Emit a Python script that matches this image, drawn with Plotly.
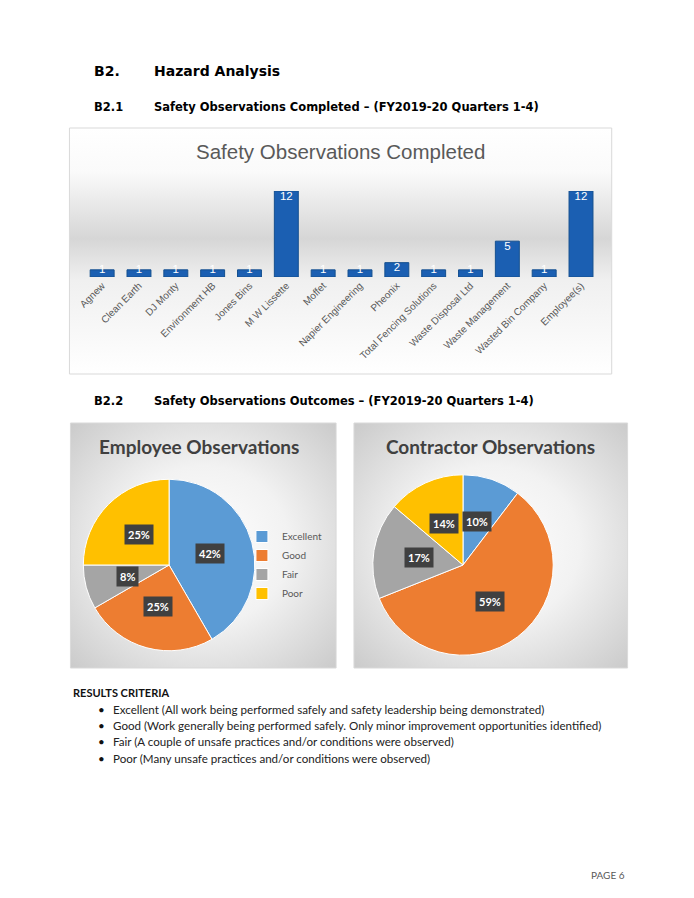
import math
import base64
import plotly.graph_objects as go

# ---------------- data ----------------
contractors = ["Agnew", "Clean Earth", "DJ Monty", "Environment HB", "Jones Bins",
               "M W Lissette", "Moffet", "Napier Engineering", "Pheonix",
               "Total Fencing Solutions", "Waste Disposal Ltd", "Waste Management",
               "Wasted Bin Company", "Employee(s)"]
observations = [1, 1, 1, 1, 1, 12, 1, 1, 2, 1, 1, 5, 1, 12]

ratings = ["Excellent", "Good", "Fair", "Poor"]
employee_counts = [5, 3, 1, 3]
contractor_counts = [3, 17, 5, 4]
rating_colors = ["#5B9BD5", "#ED7D31", "#A5A5A5", "#FFC000"]

criteria = [
    "Excellent (All work being performed safely and safety leadership being demonstrated)",
    "Good (Work generally being performed safely. Only minor improvement opportunities identified)",
    "Fair (A couple of unsafe practices and/or conditions were observed)",
    "Poor (Many unsafe practices and/or conditions were observed)",
]

# ---------------- page geometry helpers ----------------
W, H = 694, 898


def px(x):
    return x / W


def py(y):
    return 1 - y / H


def svg_uri(svg):
    return "data:image/svg+xml;base64," + base64.b64encode(svg.encode()).decode()


def linear_bg(w, h):
    return svg_uri(
        f'<svg xmlns="http://www.w3.org/2000/svg" width="{w}" height="{h}" viewBox="0 0 {w} {h}" preserveAspectRatio="none">'
        '<defs><linearGradient id="g" x1="0" y1="0" x2="0" y2="1">'
        '<stop offset="0" stop-color="#ffffff"/><stop offset="0.18" stop-color="#fafafa"/>'
        '<stop offset="0.45" stop-color="#d6d6d6"/><stop offset="0.62" stop-color="#f0f0f0"/>'
        '<stop offset="1" stop-color="#ffffff"/></linearGradient></defs>'
        f'<rect width="{w}" height="{h}" fill="url(#g)"/></svg>')


def radial_bg(w, h):
    return svg_uri(
        f'<svg xmlns="http://www.w3.org/2000/svg" width="{w}" height="{h}" viewBox="0 0 {w} {h}" preserveAspectRatio="none">'
        '<defs><radialGradient id="g" cx="0.5" cy="0.5" r="0.72">'
        '<stop offset="0" stop-color="#ffffff"/><stop offset="0.45" stop-color="#f2f2f2"/>'
        '<stop offset="1" stop-color="#c9c9c9"/></radialGradient></defs>'
        f'<rect width="{w}" height="{h}" fill="url(#g)"/></svg>')


fig = go.Figure()

# ---------------- bar chart ----------------
fig.add_trace(go.Bar(
    x=contractors, y=observations,
    marker=dict(color="#1B5FB2", line=dict(color="#15508F", width=1)),
    showlegend=False, xaxis="x", yaxis="y", hoverinfo="x+y",
))
# value labels: inside the end of tall bars, centred on the top of short ones
fig.add_trace(go.Scatter(
    x=contractors, y=observations, mode="text",
    text=[str(v) for v in observations],
    textposition=["middle center" if v < 2 else "bottom center" for v in observations],
    textfont=dict(family="Liberation Sans", size=11.5, color="white"),
    cliponaxis=False, showlegend=False, hoverinfo="skip", xaxis="x", yaxis="y",
))

# ---------------- pies ----------------
pies = [
    dict(counts=employee_counts, cx=164.5, cy=565, r=86.5, legend="legend"),
    dict(counts=contractor_counts, cx=461, cy=565, r=91, legend="legend2"),
]
annotations = []
for p in pies:
    fig.add_trace(go.Pie(
        labels=ratings, values=p["counts"], sort=False, direction="clockwise",
        rotation=0, textinfo="none", hoverinfo="label+percent",
        marker=dict(colors=rating_colors, line=dict(color="white", width=1)),
        domain=dict(x=[px(p["cx"] - p["r"]), px(p["cx"] + p["r"])],
                    y=[py(p["cy"] + p["r"]), py(p["cy"] - p["r"])]),
        legend=p["legend"],
    ))
    total = sum(p["counts"])
    cum = 0
    for c in p["counts"]:
        mid = (cum + c / 2) / total * 2 * math.pi
        cum += c
        lx = p["cx"] + 0.5 * p["r"] * math.sin(mid)
        ly = p["cy"] - 0.5 * p["r"] * math.cos(mid)
        annotations.append(dict(
            x=px(lx), y=py(ly), xref="paper", yref="paper", showarrow=False,
            xanchor="center", yanchor="middle",
            text=f"<b>{round(100 * c / total)}%</b>",
            font=dict(family="Lato", size=11, color="white"),
            bgcolor="#404040", borderpad=3,
        ))

legend_common = dict(
    font=dict(family="Lato", size=10, color="#595959"),
    bgcolor="rgba(0,0,0,0)", itemwidth=30,
    xanchor="left", yanchor="top", tracegroupgap=0,
)

# ---------------- page text ----------------
def txt(x, y, s, size, family, color="#000000", bold=False, xanchor="left"):
    annotations.append(dict(
        x=px(x), y=py(y), xref="paper", yref="paper", showarrow=False,
        text=f"<b>{s}</b>" if bold else s, xanchor=xanchor, yanchor="middle",
        font=dict(family=family, size=size, color=color),
    ))


HEAD = "DejaVu Sans"
txt(87, 71, "B2.", 14, HEAD, bold=True)
txt(147, 71, "Hazard Analysis", 14, HEAD, bold=True)
txt(87, 107, "B2.1", 11.5, HEAD, bold=True)
txt(147, 107, "Safety Observations Completed – (FY2019-20 Quarters 1-4)", 11.5, HEAD, bold=True)
txt(87, 401, "B2.2", 11.5, HEAD, bold=True)
txt(147, 401, "Safety Observations Outcomes – (FY2019-20 Quarters 1-4)", 11.5, HEAD, bold=True)

txt(337, 151, "Safety Observations Completed", 20.5, "Liberation Sans", color="#595959", xanchor="center")
txt(195, 446, "Employee Observations", 19, "Lato", color="#404040", bold=True, xanchor="center")
txt(489, 446, "Contractor Observations", 19, "Lato", color="#404040", bold=True, xanchor="center")

txt(66, 692, "RESULTS CRITERIA", 11, "Lato", color="#111111", bold=True)
for i, line in enumerate(criteria):
    yy = 709 + i * 16.4
    txt(91, yy, "•", 11.6, "Lato", color="#111111")
    txt(106, yy, line, 11.6, "Lato", color="#222222")
txt(588, 875, "PAGE 6", 10, "Lato", color="#595959")

# ---------------- backgrounds & borders ----------------
boxes = [
    (64, 128, 611, 374, linear_bg),
    (65, 423, 333, 668, radial_bg),
    (351, 423, 627, 668, radial_bg),
]
images, shapes = [], []
for x0, y0, x1, y1, fn in boxes:
    images.append(dict(source=fn(x1 - x0, y1 - y0), xref="paper", yref="paper",
                       x=px(x0), y=py(y0), sizex=(x1 - x0) / W, sizey=(y1 - y0) / H,
                       sizing="stretch", xanchor="left", yanchor="top", layer="below"))
    shapes.append(dict(type="rect", xref="paper", yref="paper",
                       x0=px(x0), x1=px(x1), y0=py(y1), y1=py(y0),
                       line=dict(color="#d9d9d9", width=1), fillcolor="rgba(0,0,0,0)"))

fig.update_layout(
    width=W, height=H, margin=dict(l=0, r=0, t=0, b=0),
    paper_bgcolor="white", plot_bgcolor="rgba(0,0,0,0)",
    bargap=0.35,
    xaxis=dict(domain=[px(78.4), px(598.6)], anchor="y", tickangle=-45,
               range=[-0.5, len(contractors) - 0.5],
               tickfont=dict(family="Liberation Sans", size=10, color="#595959"),
               showgrid=False, showline=False, zeroline=False, ticks="",
               fixedrange=True),
    yaxis=dict(domain=[py(277), py(191)], range=[0, 12], visible=False,
               fixedrange=True),
    legend=dict(x=px(238), y=py(522), **legend_common),
    legend2=dict(x=px(538), y=py(522), **legend_common),
    annotations=annotations, shapes=shapes, images=images,
)

fig.write_html(
    "out.html",
    config={"displayModeBar": False},
    post_script="document.body.style.margin='0';document.body.style.overflow='hidden';",
)
